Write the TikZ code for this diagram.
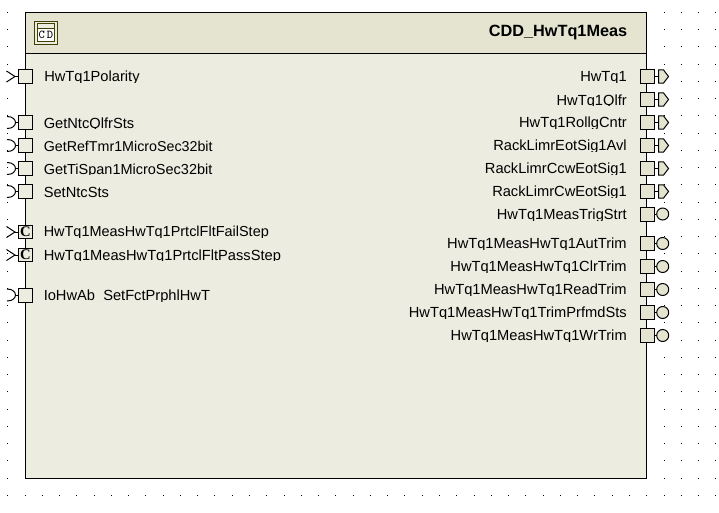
\documentclass[tikz,border=0pt]{standalone}
\usepackage{fontspec}
\setmainfont{Liberation Sans}
\newfontfamily\portfont{Liberation Serif}
\usepackage{tikz}
\usetikzlibrary{positioning,shapes.symbols}
\definecolor{bodyfill}{HTML}{ECECE0}
\definecolor{headfill}{HTML}{E4E4D0}
\definecolor{iconline}{HTML}{404000}
\tikzstyle{line}=[-, line width=0.75pt]
\tikzset{
    inport/.style={draw, fill=bodyfill, line width=0.75pt, minimum size=10.5pt, inner sep=0pt},
    outport/.style={inport, fill=headfill},
    callport/.style={inport, minimum height=9.5pt, font=\portfont\bfseries\fontsize{11pt}{11pt}\selectfont},
    inname/.style={anchor=base west, inner sep=0pt, font=\fontsize{11pt}{13pt}\selectfont},
    outname/.style={anchor=base east, inner sep=0pt, font=\fontsize{11pt}{13pt}\selectfont},
    sendtip/.style={draw, fill=headfill, line width=0.75pt, signal, signal to=east, signal pointer angle=105, minimum width=7.5pt, minimum height=10pt, inner sep=0pt},
    servetip/.style={draw, fill=headfill, line width=0.75pt, circle, minimum size=9pt, inner sep=0pt}
}
\newcommand{\chevrontip}[1]{\draw[line] ([shift={(-8.5,-5.5)}]#1) -- (#1) -- ([shift={(-8.5,5.5)}]#1);}
\newcommand{\arctip}[1]{\draw[line] ([shift={(-8.5,-6)}]#1) .. controls ([shift={(2.8,-6)}]#1) and ([shift={(2.8,6)}]#1) .. ([shift={(-8.5,6)}]#1);}

\begin{document}
\begin{tikzpicture}[x=0.75pt, y=-0.75pt]
        \useasboundingbox (0,0) rectangle (719,512);

        % raster behind the component
        \foreach \i in {0,...,41}
            \foreach \j in {0,...,28} {
                \pgfmathtruncatemacro\dotx{7.75+17.27*\i}
                \pgfmathtruncatemacro\doty{12.25+17.25*\j}
                \fill (\dotx,\doty) rectangle +(1,1);
            }

        % component frame
        \draw[line, fill=bodyfill] (25.5,12.5) rectangle (646.5,478.5);
        \draw[line, fill=headfill] (25.5,12.5) rectangle (646.5,53.5);
        \node[anchor=base east, inner sep=0pt, font=\bfseries\fontsize{12.2pt}{14pt}\selectfont] (title) at (627.5,36.7) {CDD\_HwTq1Meas};

        % icon
        \node[draw=iconline, fill=bodyfill, line width=0.75pt, minimum size=17pt, inner sep=0pt] (icon) at (46,32.7) {};
        \node[draw=iconline, fill=white, line width=0.75pt, minimum width=12.5pt, minimum height=12.5pt, inner sep=0pt] (iconin) at (icon) {};
        \draw[draw=iconline, fill=bodyfill, line width=0.75pt] (iconin.north west) rectangle ([yshift=-3.75pt]iconin.north east);
        \node[inner sep=0pt, font=\ttfamily\fontsize{9pt}{9pt}\selectfont] (icontxt) at ([yshift=-1.7pt]iconin.center) {C\,D};

        % left side
        \node[inport] (p1) at (25.5,76.5) {};
        \node[inport] (p2) at (25.5,122.5) {};
        \node[inport] (p3) at (25.5,145.5) {};
        \node[inport] (p4) at (25.5,168.5) {};
        \node[inport] (p5) at (25.5,191.5) {};
        \node[callport] (p6) at (25.5,232) {C};
        \node[callport] (p7) at (25.5,255) {C};
        \node[inport] (p8) at (25.5,295) {};

        \node[inname] (n1) at (44,81.7) {HwTq1Polarity};
        \node[inname] (n2) at (43.5,128) {GetNtcQlfrSts};
        \node[inname, font=\fontsize{10.7pt}{13pt}\selectfont] (n3) at (43.5,151) {GetRefTmr1MicroSec32bit};
        \node[inname, font=\fontsize{10.87pt}{13pt}\selectfont] (n4) at (43.5,174) {GetTiSpan1MicroSec32bit};
        \node[inname] (n5) at (43.5,197) {SetNtcSts};
        \node[inname, font=\fontsize{10.85pt}{13pt}\selectfont] (n6) at (43.5,236.7) {HwTq1MeasHwTq1PrtclFltFailStep};
        \node[inname] (n7) at (43.5,260) {HwTq1MeasHwTq1PrtclFltPassStep};
        \node[inname] (n8) at (43.5,300.7) {IoHwAb\_SetFctPrphlHwT};

        \coordinate (s1) at (15,76.5);
        \coordinate (s2) at (15.5,122.5);
        \coordinate (s3) at (15.5,145.5);
        \coordinate (s4) at (15.5,168.5);
        \coordinate (s5) at (15.5,191.5);
        \coordinate (s6) at (15,232);
        \coordinate (s7) at (15,255);
        \coordinate (s8) at (15.5,295);

        \draw[line] (s1) -- (p1);
        \draw[line] (s2) -- (p2);
        \draw[line] (s3) -- (p3);
        \draw[line] (s4) -- (p4);
        \draw[line] (s5) -- (p5);
        \draw[line] (s6) -- (p6);
        \draw[line] (s7) -- (p7);
        \draw[line] (s8) -- (p8);

        \chevrontip{s1}
        \arctip{s2}
        \arctip{s3}
        \arctip{s4}
        \arctip{s5}
        \chevrontip{s6}
        \chevrontip{s7}
        \arctip{s8}

        % right side
        \node[outport] (q1) at (647,76.5) {};
        \node[outport] (q2) at (647,99.5) {};
        \node[outport] (q3) at (647,122.5) {};
        \node[outport] (q4) at (647,145.5) {};
        \node[outport] (q5) at (647,168.5) {};
        \node[outport] (q6) at (647,191.5) {};
        \node[outport] (q7) at (647,214) {};
        \node[outport] (q8) at (647,243.5) {};
        \node[outport] (q9) at (647,266.5) {};
        \node[outport] (q10) at (647,289.5) {};
        \node[outport] (q11) at (647,312.5) {};
        \node[outport] (q12) at (647,335.5) {};

        \node[outname] (m1) at (627,81.7) {HwTq1};
        \node[outname] (m2) at (627,105) {HwTq1Qlfr};
        \node[outname] (m3) at (627,127.7) {HwTq1RollgCntr};
        \node[outname] (m4) at (627,150.7) {RackLimrEotSig1Avl};
        \node[outname] (m5) at (627,173.7) {RackLimrCcwEotSig1};
        \node[outname] (m6) at (627,196.7) {RackLimrCwEotSig1};
        \node[outname] (m7) at (627,219.3) {HwTq1MeasTrigStrt};
        \node[outname] (m8) at (627,248.7) {HwTq1MeasHwTq1AutTrim};
        \node[outname] (m9) at (627,271.7) {HwTq1MeasHwTq1ClrTrim};
        \node[outname] (m10) at (627,294.7) {HwTq1MeasHwTq1ReadTrim};
        \node[outname] (m11) at (627,317.7) {HwTq1MeasHwTq1TrimPrfmdSts};
        \node[outname] (m12) at (627,340.7) {HwTq1MeasHwTq1WrTrim};

        \node[sendtip] (t1) at (661,76.5) {};
        \node[sendtip] (t2) at (661,99.5) {};
        \node[sendtip] (t3) at (661,122.5) {};
        \node[sendtip] (t4) at (661,145.5) {};
        \node[sendtip] (t5) at (661,168.5) {};
        \node[sendtip] (t6) at (661,191.5) {};
        \node[servetip] (t7) at (662.7,214) {};
        \node[servetip] (t8) at (662.7,243.5) {};
        \node[servetip] (t9) at (662.7,266.5) {};
        \node[servetip] (t10) at (662.7,289.5) {};
        \node[servetip] (t11) at (662.7,312.5) {};
        \node[servetip] (t12) at (662.7,335.5) {};

        \draw[line] (q1) -- (t1);
        \draw[line] (q2) -- (t2);
        \draw[line] (q3) -- (t3);
        \draw[line] (q4) -- (t4);
        \draw[line] (q5) -- (t5);
        \draw[line] (q6) -- (t6);
        \draw[line] (q7) -- (t7);
        \draw[line] (q8) -- (t8);
        \draw[line] (q9) -- (t9);
        \draw[line] (q10) -- (t10);
        \draw[line] (q11) -- (t11);
        \draw[line] (q12) -- (t12);

        % the names are cut off just below their base line
        \foreach \n in {n1,n2,n3,n4,n5,n6,n7,n8,m1,m2,m3,m4,m5,m6,m7,m8,m9,m10,m11,m12}
            \fill[bodyfill] ([yshift=-1.1pt]\n.base west) rectangle ([yshift=-4pt]\n.base east);
\end{tikzpicture}
\end{document}
